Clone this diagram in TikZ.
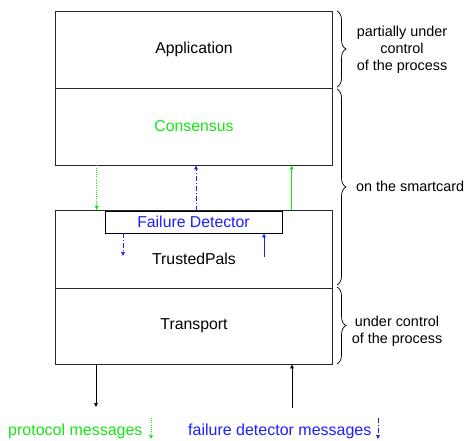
\documentclass[tikz,border=0pt]{standalone}
\usepackage{fontspec}
\setmainfont{Liberation Sans}
\usetikzlibrary{arrows.meta,decorations.pathreplacing}
\definecolor{protogreen}{RGB}{20,230,20}
\definecolor{fdblue}{RGB}{30,30,255}
\definecolor{boxline}{RGB}{40,40,40}
\begin{document}
\begin{tikzpicture}[x=1pt,y=-1pt,
  layer/.style={draw=boxline,line width=0.9pt,minimum width=277pt,minimum height=77pt,
    inner sep=0pt,font=\fontsize{15.8}{18}\selectfont},
  tip/.style={-{Triangle[length=4pt,width=3.6pt]}},
  dotline/.style={dash pattern=on 1pt off 1.2pt},
  dashdot/.style={dash pattern=on 5pt off 2pt on 1pt off 2pt},
  sidebrace/.style={decorate,decoration={brace,amplitude=9pt,aspect=0.5},line width=0.7pt},
  sidetext/.style={font=\fontsize{14.4}{17}\selectfont,align=center,inner sep=0pt},
  legend/.style={font=\fontsize{16}{18}\selectfont,inner sep=0pt}]
\useasboundingbox (0,0) rectangle (468,440);

% protocol layers
\node[layer] (app)  at (194,49.5)  {Application};
\node[layer,text=protogreen] (cons) at (194,126.5) {Consensus};
\node[layer,minimum height=77.5pt] (tp) at (194,249.25) {};
\node[font=\fontsize{15.8}{18}\selectfont] (tplabel) at (194,259) {TrustedPals};
\node[layer,minimum height=76pt] (tr) at (194,326) {Transport};
\node[draw=black,line width=0.9pt,fill=white,minimum width=177pt,minimum height=22pt,inner sep=0pt,
  text=fdblue,font=\fontsize{15.8}{18}\selectfont] (fd) at (193.5,222) {Failure Detector};

% message flow between Consensus and TrustedPals
\draw[tip,dotline,protogreen,line width=0.7pt] (cons.south -| 96.7,0) -- (tp.north -| 96.7,0);
\draw[tip,dashdot,fdblue,line width=0.7pt] (fd.north -| 196,0) -- (cons.south -| 196,0);
\draw[tip,protogreen,line width=0.6pt] (tp.north -| 291.7,0) -- (cons.south -| 291.7,0);

% inside TrustedPals
\coordinate (fdout) at (123,256);
\coordinate (fdin) at (264,257);
\draw[tip,dashdot,fdblue,line width=0.7pt] (fd.south -| fdout) -- (fdout);
\draw[tip,fdblue,line width=0.7pt] (fdin) -- (fd.south -| fdin);

% network side of Transport
\coordinate (netout) at (96,407);
\coordinate (netin) at (292,408);
\draw[tip,black,line width=0.6pt] (tr.south -| netout) -- (netout);
\draw[tip,black,line width=0.6pt] (netin) -- (tr.south -| netin);

% legend
\node[legend,text=protogreen,anchor=west] (lg1) at (8,431) {protocol messages};
\node[legend,text=fdblue,anchor=west] (lg2) at (188,431) {failure detector messages};
\coordinate (l1a) at (151,418); \coordinate (l1b) at (151,439);
\coordinate (l2a) at (378,418); \coordinate (l2b) at (378,439);
\draw[tip,dotline,protogreen,line width=0.7pt] (l1a) -- (l1b);
\draw[tip,dashdot,fdblue,line width=0.7pt] (l2a) -- (l2b);

% braces on the right
\draw[sidebrace] (337,11) -- (337,87);
\draw[sidebrace] (337,89) -- (337,285);
\draw[sidebrace] (337,287) -- (337,364);
\node[sidetext] (t1) at (402,49.5) {partially under\\control\\of the process};
\node[sidetext,anchor=west] (t2) at (356,186) {on the smartcard};
\node[sidetext] (t3) at (397,331) {under control\\of the process};
\end{tikzpicture}
\end{document}
